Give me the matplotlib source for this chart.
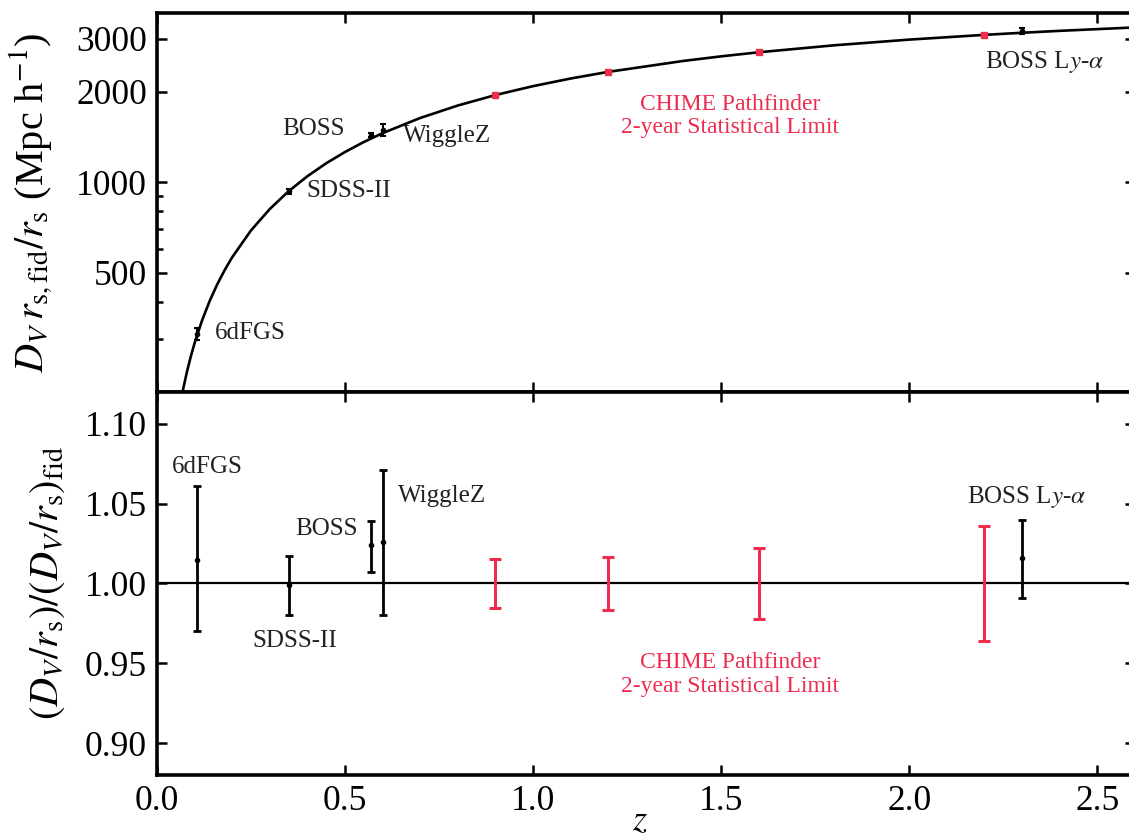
import matplotlib
matplotlib.use("Agg")
import matplotlib.pyplot as plt
from matplotlib.ticker import FixedLocator, FixedFormatter, NullFormatter
import numpy as np

plt.rcParams['font.family'] = 'serif'
plt.rcParams['font.serif'] = ['Liberation Serif', 'DejaVu Serif']
plt.rcParams['mathtext.fontset'] = 'stix'

RED = '#EE2C4F'

# fiducial D_V (Mpc/h) along the model curve
z_curve = [0.05, 0.06, 0.07, 0.08, 0.09, 0.10, 0.12, 0.14, 0.16, 0.18, 0.20,
           0.25, 0.30, 0.35, 0.40, 0.45, 0.50, 0.55, 0.60, 0.70, 0.80, 0.90,
           1.0, 1.1, 1.2, 1.4, 1.5, 1.6, 1.8, 2.0, 2.2, 2.3, 2.4, 2.6]
dv_curve = [147.6, 176.6, 205.5, 234.1, 262.5, 290.6, 346.4, 401.5, 455.9, 509.3, 562.0,
            690.4, 813.9, 932.7, 1046.5, 1155.8, 1260.3, 1360.6, 1456.4, 1636.0, 1800.3, 1950.6,
            2088.3, 2214.4, 2330.1, 2534.3, 2624.6, 2707.8, 2856.3, 2984.1, 3094.9, 3144.8, 3191.6, 3276.4]

# existing BAO measurements
names = ['6dFGS', 'SDSS-II', 'BOSS', 'WiggleZ', r'BOSS L$y$-$\alpha$']
z_meas = [0.106, 0.35, 0.57, 0.60, 2.30]
ratio_meas = [1.015, 0.999, 1.024, 1.026, 1.016]
err_lo = [0.045, 0.019, 0.017, 0.046, 0.025]
err_hi = [0.046, 0.018, 0.015, 0.045, 0.024]
dv_fid_meas = [307.3, 932.7, 1399.0, 1456.4, 3144.8]

# CHIME pathfinder forecast
z_chime = [0.9, 1.2, 1.6, 2.2]
chime_err = [0.0155, 0.0165, 0.022, 0.036]
dv_fid_chime = [1950.6, 2330.1, 2707.8, 3094.9]

# label placement
top_lab_xy = [(0.155, 315, 'left'), (0.396, 935, 'left'), (0.50, 1504, 'right'),
              (0.654, 1425, 'left'), (2.202, 2513, 'left')]
bot_lab_xy = [(0.133, 1.073), (0.367, 0.9637), (0.452, 1.034), (0.758, 1.055), (2.311, 1.054)]
chime_label = 'CHIME Pathfinder\n2-year Statistical Limit'

fig = plt.figure(figsize=(11.29, 8.38), dpi=100)
ax1 = fig.add_axes([0.139, 0.5322, 0.8662, 0.4523])
ax2 = fig.add_axes([0.139, 0.0752, 0.8662, 0.4570])

# --- top: distance scale ---
ax1.plot(z_curve, dv_curve, color='k', lw=1.9, zorder=2)
zm = np.array(z_meas)
dvm = np.array(dv_fid_meas)
ax1.errorbar(zm, np.array(ratio_meas) * dvm,
             yerr=[np.array(err_lo) * dvm, np.array(err_hi) * dvm],
             fmt='o', ms=3, color='k', ecolor='k', elinewidth=1.5,
             capsize=2.5, capthick=1.5, zorder=3)
ax1.plot(z_chime, dv_fid_chime, 's', ms=5, color=RED, mec=RED, zorder=4)

for (x, y, ha), name in zip(top_lab_xy, names):
    ax1.text(x, y, name, ha=ha, va='center', fontsize=18, color='#222222')
ax1.text(1.524, 1663, chime_label, ha='center', va='center', fontsize=17,
         color=RED, multialignment='center', linespacing=1.15)

ax1.set_yscale('log')
ax1.set_xlim(0, 2.6)
ax1.set_ylim(200, 3660)
ax1.yaxis.set_major_locator(FixedLocator([500, 1000, 2000, 3000]))
ax1.yaxis.set_major_formatter(FixedFormatter(['500', '1000', '2000', '3000']))
ax1.yaxis.set_minor_locator(FixedLocator([300, 400, 600, 700, 800, 900]))
ax1.yaxis.set_minor_formatter(NullFormatter())
ax1.set_xticks(np.arange(0, 2.6, 0.5))
ax1.tick_params(labelbottom=False)
ax1.set_ylabel(r'$D_V\,r_{\rm s,fid}/r_{\rm s}$ (Mpc h$^{-1}$)', fontsize=29)
ax1.yaxis.set_label_coords(-0.104, 0.5)

# --- bottom: ratio to fiducial ---
ax2.axhline(1.0, color='k', lw=1.6, zorder=1)
ax2.errorbar(z_meas, ratio_meas, yerr=[err_lo, err_hi], fmt='o', ms=3,
             color='k', ecolor='k', elinewidth=2, capsize=3, capthick=2, zorder=3)
ax2.errorbar(z_chime, np.ones(len(z_chime)), yerr=chime_err, fmt='none',
             ecolor=RED, elinewidth=2.2, capsize=4.5, capthick=2.2, zorder=3)

for (x, y), name in zip(bot_lab_xy, names):
    ax2.text(x, y, name, ha='center', va='center', fontsize=18, color='#222222')
ax2.text(1.524, 0.943, chime_label, ha='center', va='center', fontsize=17,
         color=RED, multialignment='center', linespacing=1.15)

ax2.set_xlim(0, 2.6)
ax2.set_ylim(0.88, 1.12)
ax2.set_yticks([0.90, 0.95, 1.00, 1.05, 1.10])
ax2.set_yticklabels(['0.90', '0.95', '1.00', '1.05', '1.10'])
ax2.set_xticks(np.arange(0, 2.6, 0.5))
ax2.set_xticklabels(['0.0', '0.5', '1.0', '1.5', '2.0', '2.5'])
ax2.set_ylabel(r'$(D_V/r_{\rm s})/(D_V/r_{\rm s})_{\rm fid}$', fontsize=29)
ax2.yaxis.set_label_coords(-0.092, 0.5)
ax2.set_xlabel('$z$', fontsize=26)
ax2.xaxis.set_label_coords(0.494, -0.08)

for ax in (ax1, ax2):
    for sp in ax.spines.values():
        sp.set_linewidth(2.6)
    ax.tick_params(which='both', direction='in', top=True, right=True,
                   labelsize=25.5, width=1.8)
    ax.tick_params(which='major', length=7, pad=7)
    ax.tick_params(which='minor', length=4)

fig.savefig('out.png', dpi=100)
